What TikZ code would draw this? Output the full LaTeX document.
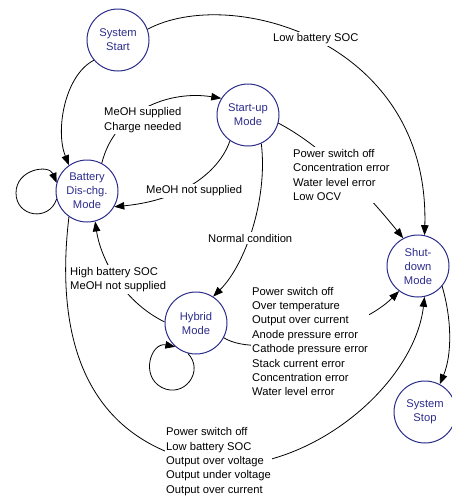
\documentclass[tikz,border=0pt]{standalone}
\usepackage{fontspec}
\setmainfont{Liberation Sans}
\usetikzlibrary{arrows.meta}
\definecolor{navy}{RGB}{45,45,140}
\begin{document}
\begin{tikzpicture}[x=1pt,y=-1pt,
  state/.style={circle, draw=navy, line width=1pt, text=navy, minimum size=62pt, inner sep=0pt, align=center, font=\fontsize{11.2}{14}\selectfont},
  lbl/.style={fill=white, inner xsep=1pt, inner ysep=2pt, align=left, anchor=west, font=\fontsize{11.2}{14.4}\selectfont},
  arr/.style={draw=black, line width=0.8pt, -{Triangle[length=10pt,width=7.5pt]}}]
\fill[white] (0,0) rectangle (451,499);
\useasboundingbox (0,0) rectangle (451,499);
% states
\node[state] (start) at (118,40) {System\\Start};
\node[state] (startup) at (248,115) {Start-up\\Mode};
\node[state] (bat) at (87,191) {Battery\\Dis-chg.\\Mode};
\node[state] (hyb) at (196,323) {Hybrid\\Mode};
\node[state] (shut) at (418,266) {Shut-\\down\\Mode};
\node[state] (stop) at (425,412) {System\\Stop};
\coordinate (bl) at (16,193);
\coordinate (hl) at (161.7,387.4);
\coordinate (via) at (222,466);
% connectors
\draw[arr] (start.220) .. controls (65,75) and (55,130) .. (bat.125);
\draw[arr] (start.20) .. controls (230,-15) and (430,40) .. (shut.78);
\draw[arr] (bat.62) .. controls (115,110) and (170,90) .. (startup.148);
\draw[arr] (startup.235) .. controls (220,170) and (185,200) .. (bat.-30);
\draw[arr] (startup.-65) .. controls (268,200) and (245,265) .. (hyb.57);
\draw[arr] (hyb.178) .. controls (120,300) and (100,255) .. (bat.-75);
\draw[arr] (startup.-15) .. controls (320,145) and (360,185) .. (shut.118);
\draw[arr] (hyb.-28) .. controls (260,360) and (360,330) .. (shut.233);
\draw[arr] (bat.235) .. controls (52,360) and (100,450) .. (via) .. controls (320,466) and (415,380) .. (shut.-78);
\draw[arr] (shut.-40) .. controls (452,320) and (452,355) .. (stop.62);
\draw[arr] (bat.195) .. controls (49,222) and (16,217) .. (bl) .. controls (16,169) and (49,164) .. (bat.165);
\draw[arr] (hyb.255) .. controls (205,371) and (184,399) .. (hl) .. controls (140,376) and (151,342) .. (hyb.229);
% labels
\node[lbl] (l1) at (272,39) {Low battery SOC};
\node[lbl] (l2) at (103,120) {MeOH supplied\\Charge needed};
\node[lbl] (l3) at (145,191) {MeOH not supplied};
\node[lbl] (l4) at (207,238) {Normal condition};
\node[lbl] (l5) at (69,279.5) {High battery SOC\\MeOH not supplied};
\node[lbl] (l6) at (292,175) {Power switch off\\Concentration error\\Water level error\\Low OCV};
\node[lbl] (l7) at (251,341.5) {Power switch off\\Over temperature\\Output over current\\Anode pressure error\\Cathode pressure error\\Stack current error\\Concentration error\\Water level error};
\node[lbl] (l8) at (165,461.5) {Power switch off\\Low battery SOC\\Output over voltage\\Output under voltage\\Output over current};
\end{tikzpicture}
\end{document}
